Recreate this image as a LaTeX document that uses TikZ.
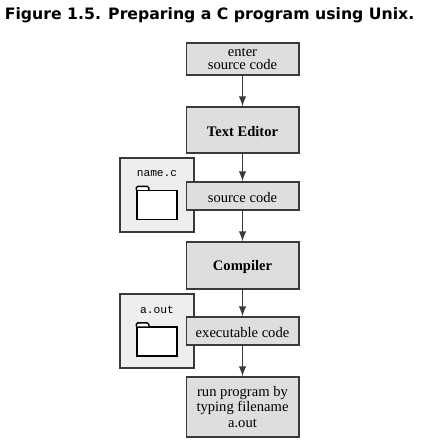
\documentclass[tikz,border=0pt]{standalone}
\usepackage{fontspec}
\setmainfont{Liberation Serif}
\setmonofont{Liberation Mono}
\newfontfamily\titlefont{DejaVu Sans}
\usepackage{tikz}
\definecolor{boxgray}{HTML}{DEDEDE}
\definecolor{sidegray}{HTML}{EEEEEE}
\definecolor{edgegray}{HTML}{3A3A3A}
\tikzset{
  procbox/.style={draw=edgegray,line width=0.85pt,fill=boxgray,minimum width=2.25cm,align=center,inner sep=0pt,font=\fontsize{8.3}{8.6}\selectfont,execute at begin node={\rule{0pt}{7.4pt}}},
  sidebox/.style={draw=edgegray,line width=0.7pt,fill=sidegray,minimum width=1.48cm,minimum height=1.48cm,inner sep=0pt},
  folderbox/.style={draw=black,line width=0.8pt,fill=white,minimum width=0.8cm,minimum height=0.58cm,inner sep=0pt},
  filename/.style={font=\ttfamily\fontsize{6.4}{7}\selectfont,inner sep=0pt},
  flow/.style={->,draw=edgegray,line width=0.95pt}
}
\begin{document}
\begin{tikzpicture}[>=latex]
\useasboundingbox (0,0) rectangle (8.44,-8.92);

\node[anchor=west,inner sep=0pt,font=\titlefont\bfseries\fontsize{8.93}{10}\selectfont] (title) at (0.09,-0.3) {Figure 1.5. Preparing a C program using Unix.};

% files
\node[sidebox] (side1) at (3.14,-3.9) {};
\node[filename] (name1) at (3.14,-3.48) {name.c};
\node[folderbox] (folder1) at (3.14,-4.1) {};
\draw[black,line width=0.8pt,fill=white] (folder1.north west) -- ++(0,0.04) -- ++(0.03,0.03) -- ++(0.19,0) -- ++(0.03,-0.03) -- ++(0,-0.04);

\node[sidebox] (side2) at (3.14,-6.62) {};
\node[filename] (name2) at (3.14,-6.2) {a.out};
\node[folderbox] (folder2) at (3.14,-6.83) {};
\draw[black,line width=0.8pt,fill=white] (folder2.north west) -- ++(0,0.04) -- ++(0.03,0.03) -- ++(0.19,0) -- ++(0.03,-0.03) -- ++(0,-0.04);

% steps
\node[procbox,minimum height=0.64cm] (enter) at (4.85,-1.18) {enter\\[-1pt]source code};
\node[procbox,minimum height=0.92cm,font=\bfseries\fontsize{8.3}{8.6}\selectfont] (editor) at (4.85,-2.6) {Text Editor};
\node[procbox,minimum height=0.56cm] (source) at (4.85,-3.92) {source code};
\node[procbox,minimum height=0.94cm,font=\bfseries\fontsize{8.3}{8.6}\selectfont] (compiler) at (4.85,-5.31) {Compiler};
\node[procbox,minimum height=0.56cm] (exec) at (4.85,-6.62) {executable code};
\node[procbox,minimum height=1.2cm] (run) at (4.85,-8.14) {run program by\\typing filename\\a.out};

\draw[flow] (enter) -- (editor);
\draw[flow] (editor) -- (source);
\draw[flow] (source) -- (compiler);
\draw[flow] (compiler) -- (exec);
\draw[flow] (exec) -- (run);

\end{tikzpicture}
\end{document}
